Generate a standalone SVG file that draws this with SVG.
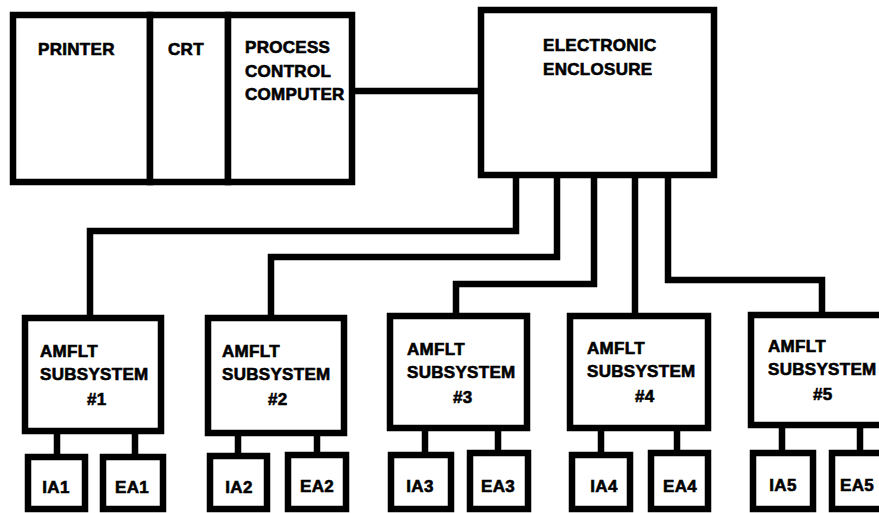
<svg xmlns="http://www.w3.org/2000/svg" width="879" height="513" viewBox="0 0 879 513">
<style>
.box{fill:#fff;stroke:#000;stroke-width:6.5}
.ln{fill:none;stroke:#000;stroke-width:6.5;stroke-linejoin:miter;stroke-linecap:square}
text{font-family:"Liberation Sans",Arial,sans-serif;font-weight:bold;font-size:17px;fill:#000;stroke:#000;stroke-width:0.6;letter-spacing:0.3px}
.c{text-anchor:middle}
</style>
<rect width="879" height="513" fill="#fff"/>
<g id="connectors">
<path class="ln" d="M352,91 H481"/>
<path class="ln" d="M516,175 V231 H90 V318"/>
<path class="ln" d="M557,175 V257 H271 V318"/>
<path class="ln" d="M594,175 V284 H456 V316"/>
<path class="ln" d="M635,175 V316"/>
<path class="ln" d="M668,175 V280 H822 V315"/>
<path class="ln" d="M57,431 V457 M135,431 V457"/>
<path class="ln" d="M238,433 V456 M317,433 V455"/>
<path class="ln" d="M425,428 V455 M498,428 V453"/>
<path class="ln" d="M601,428 V455 M677,428 V453"/>
<path class="ln" d="M782,425 V453 M860,425 V453"/>
</g>
<g id="printer">
<rect class="box" x="13" y="15" width="137" height="167"/>
<text x="38" y="55">PRINTER</text>
</g>
<g id="crt">
<rect class="box" x="150" y="15" width="78" height="167"/>
<text x="168" y="55">CRT</text>
</g>
<g id="pcc">
<rect class="box" x="228" y="15" width="124" height="167"/>
<text x="245" y="53">PROCESS</text>
<text x="245" y="77">CONTROL</text>
<text x="245" y="100">COMPUTER</text>
</g>
<g id="ee">
<rect class="box" x="481" y="10" width="233" height="165"/>
<text x="543" y="51">ELECTRONIC</text>
<text x="543" y="75">ENCLOSURE</text>
</g>
<g id="sub1">
<rect class="box" x="25" y="318" width="136" height="113"/>
<text x="40" y="357">AMFLT</text>
<text x="40" y="380">SUBSYSTEM</text>
<text x="87" y="405">#1</text>
</g>
<g id="sub2">
<rect class="box" x="208" y="318" width="136" height="115"/>
<text x="222" y="357">AMFLT</text>
<text x="222" y="380">SUBSYSTEM</text>
<text x="268" y="405">#2</text>
</g>
<g id="sub3">
<rect class="box" x="390" y="316" width="137" height="112"/>
<text x="407" y="355">AMFLT</text>
<text x="407" y="378">SUBSYSTEM</text>
<text x="453" y="403">#3</text>
</g>
<g id="sub4">
<rect class="box" x="570" y="316" width="138" height="112"/>
<text x="587" y="354">AMFLT</text>
<text x="587" y="377">SUBSYSTEM</text>
<text x="635" y="402">#4</text>
</g>
<g id="sub5">
<rect class="box" x="751" y="315" width="140" height="110"/>
<text x="768" y="352">AMFLT</text>
<text x="768" y="375">SUBSYSTEM</text>
<text x="813" y="400">#5</text>
</g>
<g id="ia1"><rect class="box" x="28" y="457" width="57" height="52"/><text class="c" x="56" y="493">IA1</text></g>
<g id="ea1"><rect class="box" x="103" y="457" width="60" height="52"/><text class="c" x="132" y="493">EA1</text></g>
<g id="ia2"><rect class="box" x="210" y="456" width="57" height="53"/><text class="c" x="239" y="493">IA2</text></g>
<g id="ea2"><rect class="box" x="288" y="455" width="58" height="54"/><text class="c" x="317" y="492">EA2</text></g>
<g id="ia3"><rect class="box" x="391" y="455" width="60" height="54"/><text class="c" x="420" y="492">IA3</text></g>
<g id="ea3"><rect class="box" x="470" y="453" width="58" height="56"/><text class="c" x="498" y="492">EA3</text></g>
<g id="ia4"><rect class="box" x="572" y="455" width="58" height="54"/><text class="c" x="604" y="492">IA4</text></g>
<g id="ea4"><rect class="box" x="651" y="453" width="57" height="56"/><text class="c" x="680" y="492">EA4</text></g>
<g id="ia5"><rect class="box" x="753" y="453" width="60" height="56"/><text class="c" x="783" y="491">IA5</text></g>
<g id="ea5"><rect class="box" x="832" y="453" width="60" height="56"/><text x="840" y="491">EA5</text></g>
</svg>
